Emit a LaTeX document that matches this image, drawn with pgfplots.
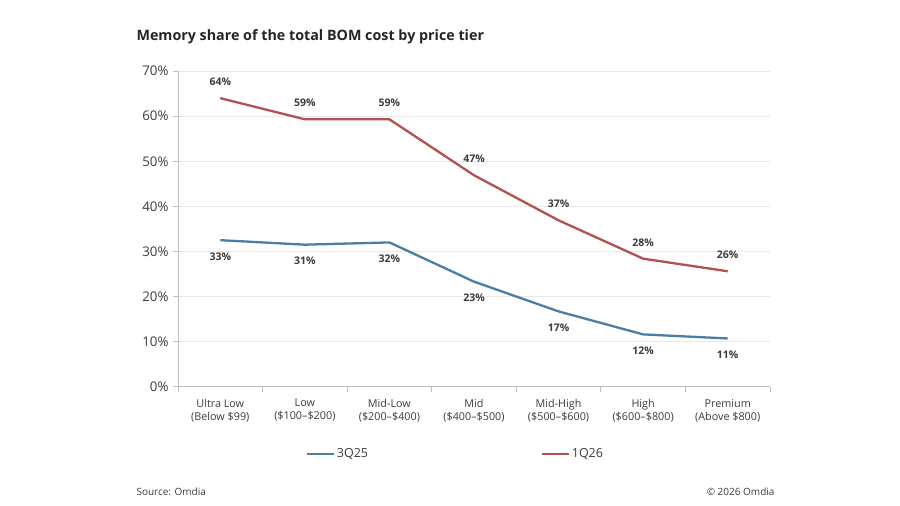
\documentclass[border=0pt]{standalone}
\usepackage{pgfplots}
\pgfplotsset{compat=1.18}
\usepackage{fontspec}
\setmainfont{Open Sans}
\setsansfont{Open Sans}
\definecolor{serA}{RGB}{74,126,167}
\definecolor{serB}{RGB}{178,82,80}
\definecolor{gridc}{RGB}{232,232,232}
\definecolor{axc}{RGB}{190,190,190}
\definecolor{txt}{RGB}{60,60,60}
\begin{document}
\begin{tikzpicture}[x=1pt,y=1pt]
\fill[white] (0,0) rectangle (900,506);
\begin{axis}[
  at={(178pt,119.3pt)}, anchor=south west,
  scale only axis, width=592pt, height=315.6pt,
  xmin=-0.5, xmax=6.5, ymin=0, ymax=70,
  axis x line*=bottom, axis y line*=left,
  axis line style={axc, line width=1pt},
  xtick={0,...,6},
  xticklabels={{Ultra Low\\(Below \$99)},{Low\\(\$100--\$200)},{Mid-Low\\(\$200--\$400)},{Mid\\(\$400--\$500)},{Mid-High\\(\$500--\$600)},{High\\(\$600--\$800)},{Premium\\(Above \$800)}},
  xticklabel style={align=center, font=\fontsize{10.8}{13}\selectfont, text=txt, yshift=-4pt},
  major x tick style={draw=none},
  minor xtick={-0.5,0.5,...,6.5},
  minor x tick style={axc, line width=0.8pt},
  minor tick length=5pt,
  tick align=outside,
  ytick={0,10,...,70},
  yticklabels={0\%,10\%,20\%,30\%,40\%,50\%,60\%,70\%},
  yticklabel style={font=\fontsize{13.3}{15}\selectfont, text=txt, xshift=-1pt},
  major y tick style={axc, line width=0.8pt},
  major tick length=5pt,
  ymajorgrids, grid style={gridc, line width=0.8pt},
  legend columns=2,
  legend style={at={(axis description cs:0.468,-0.213)}, anchor=center, draw=none, fill=none,
    font=\fontsize{12.5}{14}\selectfont, text=txt,
    nodes={inner sep=1pt},
    /tikz/every even column/.append style={column sep=172pt}},
  legend image code/.code={\draw[#1, line width=2.8pt] (0pt,0pt) -- (27pt,0pt);},
  clip=false,
  nodes near coords,
  point meta=explicit symbolic,
  every node near coord/.append style={font=\fontsize{10.5}{12}\selectfont\bfseries, text=txt},
]
\addplot[serA, line width=2.3pt, mark=none,
  every node near coord/.append style={anchor=north, yshift=-8pt}]
  table[meta=lab] {
x y lab
0 32.5 33\%
1 31.5 31\%
2 32.0 32\%
3 23.3 23\%
4 16.7 17\%
5 11.6 12\%
6 10.7 11\%
};
\addlegendentry{3Q25}
\addplot[serB, line width=2.3pt, mark=none,
  every node near coord/.append style={anchor=south, yshift=8pt}]
  table[meta=lab] {
x y lab
0 64.0 64\%
1 59.3 59\%
2 59.3 59\%
3 46.9 47\%
4 36.9 37\%
5 28.4 28\%
6 25.6 26\%
};
\addlegendentry{1Q26}
\end{axis}
\node[anchor=west, font=\fontsize{14.3}{17}\selectfont\bfseries, text=black!85] at (133,469) {Memory share of the total BOM cost by price tier};
\node[anchor=west, font=\fontsize{10}{12}\selectfont, text=txt] at (133,14) {Source: Omdia};
\node[anchor=east, font=\fontsize{10}{12}\selectfont, text=txt] at (778,14) {© 2026 Omdia};
\end{tikzpicture}
\end{document}
